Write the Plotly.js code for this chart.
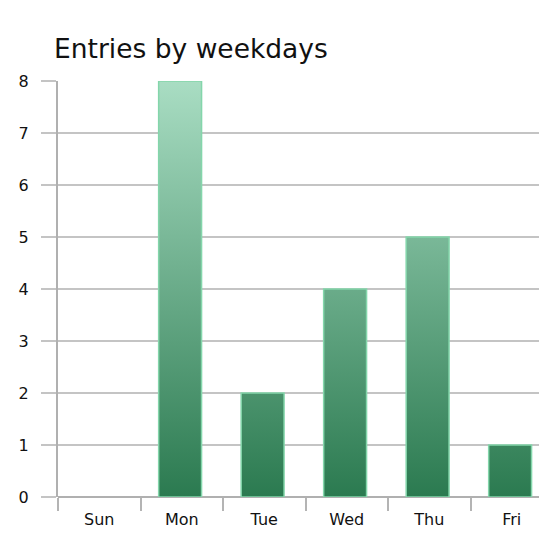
<!DOCTYPE html>
<html>
<head>
<meta charset="utf-8">
<script src="https://cdn.plot.ly/plotly-3.0.1.min.js"></script>
<style>
html,body{margin:0;padding:0;overflow:hidden;background:#fff;}
#chart{width:539px;height:536px;}
</style>
</head>
<body>
<div id="chart"></div>
<script>
const days = ['Sun', 'Mon', 'Tue', 'Wed', 'Thu', 'Fri'];
const entries = [0, 8, 2, 4, 5, 1];
const yTicks = [0, 1, 2, 3, 4, 5, 6, 7, 8];

const gradBottom = '#2b7a50';
const gradTop = '#a9ddc3';

const trace = {
  type: 'bar',
  x: days,
  y: entries,
  width: 0.52,
  offset: -0.28,
  marker: {
    color: '#5aa67e',
    line: {color: '#84d6ab', width: entries.map(function (v) { return v > 0 ? 1.5 : 0; })}
  },
  hoverinfo: 'x+y'
};

const layout = {
  width: 539,
  height: 536,
  margin: {l: 58, r: 0, t: 80.5, b: 39, pad: 0},
  paper_bgcolor: '#ffffff',
  plot_bgcolor: '#ffffff',
  showlegend: false,
  font: {family: 'DejaVu Sans, Verdana, sans-serif', color: '#111111'},
  title: {
    text: 'Entries by weekdays',
    font: {family: 'DejaVu Sans, Verdana, sans-serif', size: 26.5, color: '#111111'},
    x: 54 / 539, xref: 'container', xanchor: 'left',
    y: 1 - 49 / 536, yref: 'container', yanchor: 'middle'
  },
  xaxis: {
    type: 'category',
    range: [-0.5, 5.33],
    tickson: 'boundaries',
    ticks: 'outside',
    ticklen: 13,
    tickwidth: 2,
    tickcolor: '#b4b4b4',
    showgrid: false,
    showline: false,
    zeroline: false,
    tickfont: {size: 16, color: '#111111'},
    ticklabelstandoff: 11,
    fixedrange: true
  },
  yaxis: {
    range: [0, 8],
    tickvals: yTicks,
    ticktext: yTicks.map(String),
    ticks: 'outside',
    ticklen: 15,
    tickwidth: 2,
    tickcolor: '#c4c4c4',
    showgrid: true,
    gridcolor: '#c4c4c4',
    gridwidth: 2,
    zeroline: true,
    zerolinecolor: '#b0b0b0',
    zerolinewidth: 2,
    showline: true,
    linecolor: '#b0b0b0',
    linewidth: 2,
    tickfont: {size: 16, color: '#111111'},
    ticklabelstandoff: 9,
    fixedrange: true
  }
};

Plotly.newPlot('chart', [trace], layout, {displayModeBar: false, staticPlot: true}).then(function (gd) {
  const ya = gd._fullLayout.yaxis;
  const svg = gd.querySelector('svg.main-svg');
  let defs = svg.querySelector('defs');
  const ns = 'http://www.w3.org/2000/svg';
  if (!defs) { defs = document.createElementNS(ns, 'defs'); svg.insertBefore(defs, svg.firstChild); }
  const grad = document.createElementNS(ns, 'linearGradient');
  grad.setAttribute('id', 'barGrad');
  grad.setAttribute('gradientUnits', 'userSpaceOnUse');
  grad.setAttribute('x1', '0');
  grad.setAttribute('x2', '0');
  grad.setAttribute('y1', String(ya.l2p(ya.range[0])));
  grad.setAttribute('y2', String(ya.l2p(ya.range[1])));
  [[0, gradBottom], [1, gradTop]].forEach(function (s) {
    const st = document.createElementNS(ns, 'stop');
    st.setAttribute('offset', String(s[0]));
    st.setAttribute('stop-color', s[1]);
    grad.appendChild(st);
  });
  defs.appendChild(grad);
  gd.querySelectorAll('.trace.bars .point path').forEach(function (p) {
    p.style.fill = 'url(#barGrad)';
  });
});
</script>
</body>
</html>
